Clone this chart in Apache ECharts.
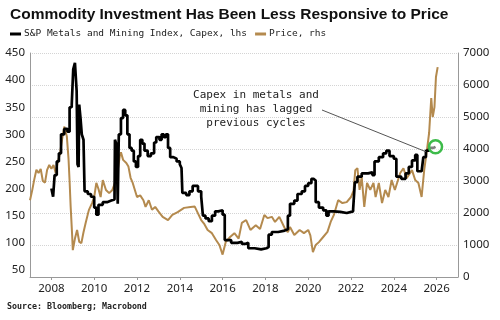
<!DOCTYPE html>
<html>
<head>
<meta charset="utf-8">
<script src="https://cdn.jsdelivr.net/npm/echarts@6/dist/echarts.min.js"></script>
<style>
  html, body { margin: 0; padding: 0; background: #fff; }
  #chart { width: 500px; height: 320px; }
</style>
</head>
<body>
<div id="chart"></div>
<script>
// S&P Metals and Mining Index capex (lhs), step series: value starts at the given year
var capexYears = [
  2008.00, 2008.08, 2008.15, 2008.25, 2008.35, 2008.45, 2008.6, 2008.75, 2008.85, 2008.95,
  2009.02, 2009.1, 2009.18, 2009.22, 2009.27, 2009.3, 2009.36, 2009.42, 2009.5, 2009.55,
  2009.7, 2009.85, 2010.0, 2010.1, 2010.2, 2010.4, 2010.6, 2010.8, 2010.95, 2010.97,
  2011.05, 2011.1, 2011.15, 2011.25, 2011.35, 2011.45, 2011.55, 2011.65, 2011.75, 2011.85,
  2011.95, 2012.05, 2012.15, 2012.25, 2012.35, 2012.5, 2012.65, 2012.8, 2012.9, 2013.05,
  2013.15, 2013.25, 2013.35, 2013.45, 2013.55, 2013.7, 2013.85, 2014.0, 2014.08, 2014.12,
  2014.3, 2014.45, 2014.6, 2014.75, 2014.85, 2015.0, 2015.08, 2015.2, 2015.35, 2015.5,
  2015.65, 2015.8, 2016.0, 2016.1, 2016.4, 2016.7, 2016.9, 2017.05, 2017.2, 2017.5,
  2017.8, 2018.05, 2018.15, 2018.3, 2018.6, 2018.85, 2019.05, 2019.15, 2019.35, 2019.5,
  2019.7, 2019.85, 2020.0, 2020.15, 2020.25, 2020.35, 2020.5, 2020.7, 2020.85, 2020.95,
  2021.2, 2021.5, 2021.8, 2022.1, 2022.18, 2022.3, 2022.5, 2022.8, 2023.0, 2023.1,
  2023.3, 2023.5, 2023.65, 2023.8, 2024.0, 2024.12, 2024.35, 2024.55, 2024.7, 2024.85,
  2025.0, 2025.1, 2025.3, 2025.38, 2025.5, 2025.65, 2025.85, 2025.95
];
var capexValues = [
  200, 185, 225, 250, 265, 300, 310, 305, 350, 355,
  420, 432, 380, 245, 240, 355, 330, 300, 290, 195,
  190, 185, 165, 152, 170, 175, 178, 180, 185, 290,
  280, 172, 300, 330, 345, 335, 300, 275, 270, 250,
  240, 260, 290, 283, 270, 260, 265, 285, 295, 290,
  300, 295, 300, 275, 258, 255, 250, 245, 238, 192,
  188, 195, 205, 205, 195, 185, 150, 145, 140, 150,
  158, 160, 152, 105, 100, 102, 98, 100, 90, 88,
  90, 92, 115, 120, 122, 125, 150, 172, 178, 190,
  195, 205, 210, 218, 215, 175, 165, 160, 150, 158,
  157, 155, 158, 162, 212, 222, 228, 230, 225, 250,
  258, 265, 270, 260, 255, 222, 218, 228, 240, 252,
  262, 232, 230, 258, 270, 275, 277, 277
];

// Price (rhs)
var priceYears = [
  2007.0, 2007.1, 2007.2, 2007.3, 2007.4, 2007.5, 2007.6, 2007.7, 2007.8, 2007.9,
  2008.0, 2008.1, 2008.2, 2008.3, 2008.4, 2008.5, 2008.6, 2008.65, 2008.72, 2008.8,
  2008.85, 2008.9, 2008.97, 2009.0, 2009.1, 2009.2, 2009.3, 2009.4, 2009.5, 2009.6,
  2009.75, 2009.9, 2010.0, 2010.1, 2010.2, 2010.3, 2010.4, 2010.55, 2010.7, 2010.85,
  2011.0, 2011.1, 2011.2, 2011.25, 2011.35, 2011.5, 2011.6, 2011.7, 2011.8, 2011.9,
  2012.0, 2012.15, 2012.3, 2012.4, 2012.55, 2012.7, 2012.85, 2013.0, 2013.2, 2013.45,
  2013.65, 2013.9, 2014.2, 2014.5, 2014.7, 2014.85, 2015.0, 2015.15, 2015.3, 2015.5,
  2015.7, 2015.85, 2016.0, 2016.05, 2016.15, 2016.35, 2016.55, 2016.75, 2016.9, 2017.1,
  2017.3, 2017.55, 2017.75, 2017.95, 2018.1, 2018.3, 2018.45, 2018.65, 2018.9, 2019.05,
  2019.15, 2019.35, 2019.6, 2019.8, 2020.0, 2020.1, 2020.22, 2020.35, 2020.5, 2020.7,
  2020.9, 2021.05, 2021.2, 2021.4, 2021.6, 2021.8, 2022.0, 2022.12, 2022.2, 2022.3,
  2022.4, 2022.5, 2022.62, 2022.75, 2022.9, 2023.05, 2023.15, 2023.3, 2023.45, 2023.6,
  2023.75, 2023.9, 2024.05, 2024.3, 2024.45, 2024.6, 2024.85, 2025.0, 2025.15, 2025.3,
  2025.42, 2025.55, 2025.65, 2025.75, 2025.82, 2025.9, 2025.97, 2026.05
];
var priceValues = [
  2400, 2700, 3050, 3350, 3250, 3380, 3000, 2950, 3350, 3500,
  3380, 3500, 3250, 3600, 3850, 4300, 4700, 4750, 4400, 3700,
  3000, 2200, 1300, 840, 1200, 1470, 1100, 1060, 1400, 1690,
  2090, 2310, 2500, 2940, 2750, 2500, 3030, 2720, 2620, 2720,
  3000, 3340, 3800, 3900, 3660, 3560, 3450, 3100, 2940, 2720,
  2500, 2550, 2400, 2190, 2400, 2100, 2190, 2050, 1880, 1780,
  1940, 2030, 2160, 2190, 2200, 1990, 1780, 1650, 1470, 1370,
  1150, 1000, 700, 650, 1100, 1250, 1370, 1200, 1690, 1780,
  1470, 1620, 1500, 1940, 1840, 1880, 1720, 1880, 1530, 1400,
  1560, 1310, 1470, 1370, 1470, 1300, 780, 1000, 1090, 1250,
  1410, 1720, 1940, 2400, 2310, 2340, 2500, 2700, 3340, 3400,
  2720, 3120, 2190, 2940, 2720, 2940, 2500, 2940, 2310, 2720,
  2500, 3030, 2720, 3250, 3400, 3090, 3340, 3030, 2940, 2500,
  3340, 3970, 4500, 5590, 5000, 5310, 6250, 6560
];

var yearLabels = [2008, 2010, 2012, 2014, 2016, 2018, 2020, 2022, 2024, 2026];
var leftLabels = [50, 100, 150, 200, 250, 300, 350, 400, 450];

function pairs(xs, ys) {
  return xs.map(function (x, i) { return [x, ys[i]]; });
}

var lastCapex = [capexYears[capexYears.length - 1], capexValues[capexValues.length - 1]];

var chart = echarts.init(document.getElementById('chart'), null, { renderer: 'canvas' });
var labelFont = '"Noto Sans", sans-serif';
var monoFont = '"DejaVu Sans Mono", monospace';
var plain = function (v) { return String(v); };

chart.setOption({
  animation: false,
  backgroundColor: '#fff',
  title: {
    text: 'Commodity Investment Has Been Less Responsive to Price',
    left: 5,
    top: 2,
    textStyle: { fontFamily: '"Liberation Sans", sans-serif', fontWeight: 'bold', fontSize: 15.5, color: '#111' }
  },
  legend: {
    left: 5,
    top: 24,
    icon: 'rect',
    itemWidth: 11,
    itemHeight: 3,
    itemGap: 8,
    textStyle: { fontFamily: monoFont, fontSize: 9.5, color: '#222', padding: [0, 0, 0, -2] },
    data: ['S&P Metals and Mining Index, Capex, lhs', 'Price, rhs']
  },
  grid: { left: 30, right: 42, top: 53, bottom: 43 },
  xAxis: {
    type: 'value',
    min: 2007,
    max: 2027,
    axisLine: { show: true, lineStyle: { color: '#999', width: 1 } },
    axisTick: { show: true, length: 3, customValues: yearLabels, lineStyle: { color: '#999' } },
    axisLabel: { customValues: yearLabels, formatter: plain, fontFamily: labelFont, fontSize: 11.5, color: '#222', margin: 6 },
    splitLine: { show: false }
  },
  yAxis: [
    {
      type: 'value',
      position: 'left',
      min: 37,
      max: 450,
      axisLine: { show: true, lineStyle: { color: '#999', width: 1 } },
      axisTick: { show: false },
      axisLabel: { customValues: leftLabels, formatter: plain, fontFamily: labelFont, fontSize: 11.5, color: '#222', margin: 5 },
      splitLine: { show: false }
    },
    {
      type: 'value',
      position: 'right',
      min: 0,
      max: 7000,
      interval: 1000,
      axisLine: { show: true, lineStyle: { color: '#999', width: 1 } },
      axisTick: { show: false },
      axisLabel: { formatter: plain, fontFamily: labelFont, fontSize: 11.5, color: '#222', margin: 5 },
      splitLine: { show: true, lineStyle: { color: '#d4d4d4', type: 'dotted', width: 1 } }
    }
  ],
  series: [
    {
      name: 'Price, rhs',
      type: 'line',
      yAxisIndex: 1,
      showSymbol: false,
      color: '#b48a4e',
      lineStyle: { width: 2, color: '#b48a4e' },
      data: pairs(priceYears, priceValues),
      z: 2
    },
    {
      name: 'S&P Metals and Mining Index, Capex, lhs',
      type: 'line',
      yAxisIndex: 0,
      step: 'end',
      showSymbol: false,
      color: '#000',
      lineStyle: { width: 2.7, color: '#000' },
      data: pairs(capexYears, capexValues),
      z: 3,
      markLine: {
        silent: true,
        symbol: ['none', 'none'],
        lineStyle: { color: '#555', width: 1, type: 'solid' },
        label: { show: false },
        data: [[{ x: 322, y: 110 }, { coord: [2025.5, 268] }]]
      },
      markPoint: {
        silent: true,
        symbol: 'circle',
        symbolSize: 13,
        label: { show: false },
        itemStyle: { color: 'rgba(255,255,255,0.5)', borderColor: '#3dbb4a', borderWidth: 2.5 },
        data: [{ coord: lastCapex }]
      }
    }
  ],
  graphic: [
    {
      type: 'text',
      x: 256,
      y: 88,
      style: {
        text: 'Capex in metals and\nmining has lagged\nprevious cycles',
        fontFamily: monoFont,
        fontSize: 11,
        lineHeight: 14,
        align: 'center',
        verticalAlign: 'top',
        fill: '#222'
      }
    },
    {
      type: 'text',
      left: 7,
      top: 303,
      style: {
        text: 'Source: Bloomberg; Macrobond',
        fontFamily: monoFont,
        fontSize: 8.3,
        fontWeight: 'bold',
        fill: '#222'
      }
    }
  ]
});
</script>
</body>
</html>
